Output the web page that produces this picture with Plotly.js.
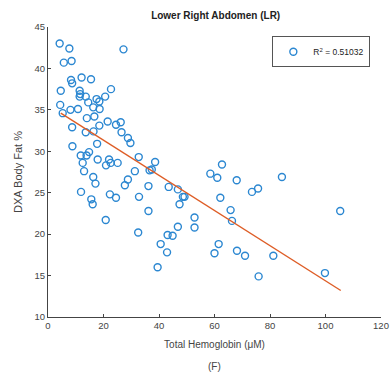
<!DOCTYPE html>
<html>
<head>
<meta charset="utf-8">
<script src="https://cdn.plot.ly/plotly-3.0.1.min.js"></script>
<style>html,body{margin:0;padding:0;background:#fff;}#chart{width:390px;height:377px;}</style>
</head>
<body>
<div id="chart"></div>
<script>
// Total hemoglobin (µM) values
const hemoglobin = [
  4.2, 7.7, 5.7, 8.5, 27.2, 8.3, 8.7, 12.1, 15.5, 4.6,
  11.4, 11.6, 11.4, 13.6, 20.6, 22.7, 4.4, 5.3, 8.1, 10.8,
  14.5, 16.3, 17.5, 18.5, 18.6, 14.0, 16.7, 21.5, 24.5, 26.2,
  8.7, 18.5, 13.6, 16.4, 8.8, 17.7, 11.8, 13.9, 14.8, 12.5,
  17.9, 22.0, 22.6, 20.9, 25.1, 13.0, 16.3, 17.1, 11.9, 15.6,
  16.1, 22.3, 24.5, 20.8, 26.5, 28.8, 29.7, 32.7, 38.6, 37.4,
  36.6, 31.3, 28.8, 27.7, 36.2, 43.5, 46.8, 48.6, 49.2, 47.4,
  32.8, 36.2, 52.8, 52.8, 46.8, 32.5, 43.1, 44.9, 40.6, 42.9,
  39.5, 62.7, 58.5, 61.0, 68.0, 84.3, 73.5, 75.7, 62.1, 65.8,
  66.3, 105.3, 61.5, 60.0, 68.1, 71.0, 81.2, 75.9, 99.8
];
// DXA body fat (%) values
const bodyFat = [
  43.0, 42.4, 40.7, 40.9, 42.3, 38.6, 38.2, 38.9, 38.7, 37.3,
  37.3, 36.9, 36.6, 36.6, 36.6, 37.5, 35.6, 34.6, 35.0, 35.1,
  35.9, 35.3, 36.3, 36.0, 35.1, 34.0, 34.2, 33.6, 33.2, 33.5,
  32.9, 33.1, 32.3, 32.4, 30.6, 30.9, 29.5, 29.5, 29.9, 28.6,
  29.0, 29.0, 28.6, 28.3, 28.6, 27.6, 26.9, 26.1, 25.1, 24.2,
  23.6, 24.8, 24.4, 21.7, 32.3, 31.6, 31.0, 29.3, 28.7, 27.8,
  27.7, 27.6, 26.6, 25.9, 25.8, 25.7, 25.4, 24.5, 24.5, 23.6,
  24.5, 22.8, 22.0, 20.8, 20.9, 20.2, 19.9, 19.8, 18.8, 17.8,
  16.0, 28.4, 27.3, 26.8, 26.5, 26.9, 25.1, 25.5, 24.4, 22.9,
  21.6, 22.8, 18.8, 17.7, 18.0, 17.4, 17.4, 14.9, 15.3
];
// Fitted line end points
const fitX = [4.6, 105.5];
const fitY = [34.6, 13.2];
const legendLabel = 'R<sup>2</sup> = 0.51032';
const xTitle = 'Total Hemoglobin (μM)';
const panelLabel = '(F)';
const xTicks = [0, 20, 40, 60, 80, 100, 120];
const yTicks = [10, 15, 20, 25, 30, 35, 40, 45];

const font = 'Liberation Sans, Arial, sans-serif';
const traces = [
  {
    x: hemoglobin, y: bodyFat, type: 'scatter', mode: 'markers',
    name: legendLabel,
    marker: {symbol: 'circle-open', size: 7, color: '#2b87d1', line: {width: 1.4, color: '#2b87d1'}},
    cliponaxis: false
  },
  {
    x: fitX, y: fitY, type: 'scatter', mode: 'lines', showlegend: false,
    line: {color: '#de5d26', width: 1.4}
  }
];
const layout = {
  width: 390, height: 377,
  margin: {l: 48, r: 9, t: 27, b: 60},
  paper_bgcolor: '#fff', plot_bgcolor: '#fff',
  font: {family: font, size: 9, color: '#404040'},
  title: {text: '<b>Lower Right Abdomen (LR)</b>', x: 0.553, xanchor: 'center', y: 0.958, yanchor: 'middle',
          font: {family: font, size: 10, color: '#222'}},
  showlegend: true,
  legend: {x: 0.968, y: 0.968, xanchor: 'right', yanchor: 'top',
           bgcolor: '#fff', bordercolor: '#555', borderwidth: 1,
           font: {family: font, size: 8.5, color: '#222'}, itemwidth: 30,
           tracegroupgap: 0},
  annotations: [{
    text: panelLabel, xref: 'paper', yref: 'paper', x: 0.5, y: 0, yshift: -49,
    xanchor: 'center', yanchor: 'middle', showarrow: false,
    font: {family: font, size: 10, color: '#444'}
  }],
  xaxis: {
    range: [0, 120], tickvals: xTicks, ticktext: xTicks.map(String),
    showgrid: false, zeroline: false, showline: true, linecolor: '#444', linewidth: 1,
    ticks: 'inside', ticklen: 3, tickcolor: '#444',
    tickfont: {family: font, size: 9.5, color: '#444'},
    title: {text: xTitle, standoff: 10, font: {family: font, size: 10, color: '#444'}}
  },
  yaxis: {
    range: [10, 45], tickvals: yTicks, ticktext: yTicks.map(String),
    showgrid: false, zeroline: false, showline: true, linecolor: '#444', linewidth: 1,
    ticks: 'inside', ticklen: 3, tickcolor: '#444',
    tickfont: {family: font, size: 9.5, color: '#444'},
    title: {text: 'DXA Body Fat %', standoff: 9, font: {family: font, size: 11, color: '#444'}}
  }
};
Plotly.newPlot('chart', traces, layout, {displayModeBar: false, staticPlot: true});
</script>
</body>
</html>
